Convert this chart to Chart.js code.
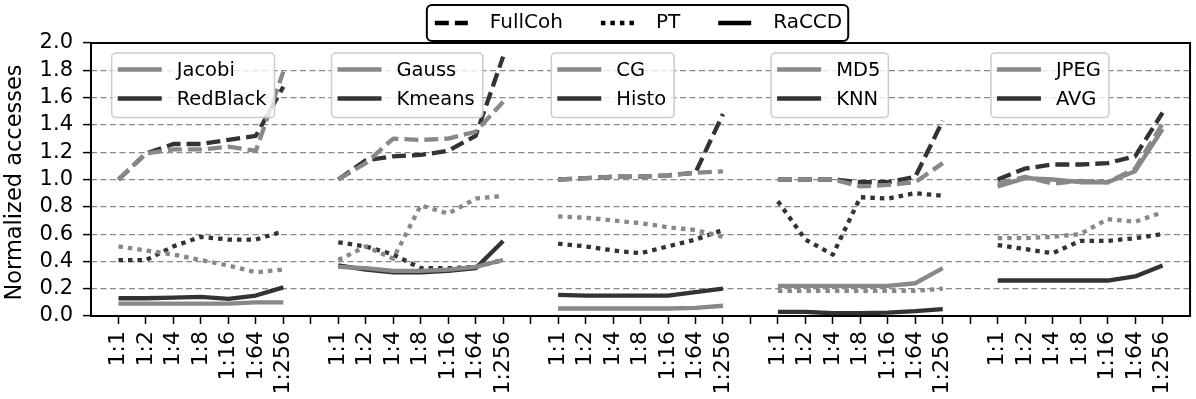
<!DOCTYPE html>
<html>
<head>
<meta charset="utf-8">
<script src="https://cdn.jsdelivr.net/npm/chart.js@4.4.1/dist/chart.umd.min.js"></script>
<style>
  html, body { margin: 0; padding: 0; background: #fff; }
  #wrap { width: 1196px; height: 399px; }
</style>
</head>
<body>
<div id="wrap"><canvas id="chart" width="1196" height="399"></canvas></div>
<script>
/* Normalized accesses per benchmark, three coherence configs, seven ratios. */

const RATIOS = ['1:1', '1:2', '1:4', '1:8', '1:16', '1:64', '1:256'];
const CONFIGS = ['FullCoh', 'PT', 'RaCCD'];
const BENCH_PAIRS = [
  ['Jacobi', 'RedBlack'],
  ['Gauss', 'Kmeans'],
  ['CG', 'Histo'],
  ['MD5', 'KNN'],
  ['JPEG', 'AVG'],
];
const Y_TITLE = 'Normalized accesses';

const JACOBI_FULLCOH = [1.00, 1.19, 1.22, 1.22, 1.24, 1.21, 1.79];
const JACOBI_PT = [0.51, 0.48, 0.45, 0.41, 0.37, 0.32, 0.34];
const JACOBI_RACCD = [0.09, 0.09, 0.09, 0.09, 0.09, 0.10, 0.10];
const REDBLACK_FULLCOH = [1.00, 1.19, 1.26, 1.26, 1.29, 1.32, 1.68];
const REDBLACK_PT = [0.41, 0.41, 0.51, 0.58, 0.56, 0.56, 0.62];
const REDBLACK_RACCD = [0.13, 0.13, 0.135, 0.14, 0.125, 0.15, 0.21];

const GAUSS_FULLCOH = [1.00, 1.12, 1.30, 1.29, 1.30, 1.35, 1.57];
const GAUSS_PT = [0.41, 0.51, 0.42, 0.81, 0.75, 0.86, 0.88];
const GAUSS_RACCD = [0.36, 0.35, 0.33, 0.33, 0.34, 0.36, 0.41];
const KMEANS_FULLCOH = [1.00, 1.14, 1.17, 1.18, 1.21, 1.32, 1.90];
const KMEANS_PT = [0.54, 0.51, 0.45, 0.35, 0.35, 0.36, 0.41];
const KMEANS_RACCD = [0.37, 0.34, 0.32, 0.32, 0.33, 0.35, 0.55];

const CG_FULLCOH = [1.00, 1.01, 1.02, 1.02, 1.03, 1.05, 1.06];
const CG_PT = [0.73, 0.72, 0.70, 0.68, 0.65, 0.63, 0.58];
const CG_RACCD = [0.055, 0.055, 0.055, 0.055, 0.055, 0.06, 0.075];
const HISTO_FULLCOH = [1.00, 1.01, 1.02, 1.02, 1.03, 1.05, 1.48];
const HISTO_PT = [0.53, 0.51, 0.48, 0.46, 0.51, 0.56, 0.63];
const HISTO_RACCD = [0.155, 0.15, 0.15, 0.15, 0.15, 0.175, 0.20];

const MD5_FULLCOH = [1.00, 1.00, 1.00, 0.95, 0.96, 0.98, 1.12];
const MD5_PT = [0.185, 0.185, 0.185, 0.185, 0.185, 0.185, 0.20];
const MD5_RACCD = [0.22, 0.22, 0.22, 0.22, 0.22, 0.24, 0.35];
const KNN_FULLCOH = [1.00, 1.00, 1.00, 0.98, 0.98, 1.02, 1.43];
const KNN_PT = [0.84, 0.56, 0.45, 0.87, 0.86, 0.90, 0.88];
const KNN_RACCD = [0.03, 0.03, 0.02, 0.02, 0.025, 0.035, 0.05];

const JPEG_FULLCOH = [0.97, 1.02, 0.97, 0.99, 0.98, 1.08, 1.41];
const JPEG_PT = [0.57, 0.57, 0.58, 0.60, 0.71, 0.69, 0.76];
const JPEG_RACCD = [0.95, 1.01, 1.00, 0.98, 0.98, 1.06, 1.37];
const AVG_FULLCOH = [1.00, 1.08, 1.11, 1.11, 1.12, 1.17, 1.49];
const AVG_PT = [0.52, 0.49, 0.46, 0.55, 0.55, 0.57, 0.60];
const AVG_RACCD = [0.26, 0.26, 0.26, 0.26, 0.26, 0.29, 0.37];

// benchmark -> [FullCoh, PT, RaCCD]
const SERIES = {
  Jacobi: [JACOBI_FULLCOH, JACOBI_PT, JACOBI_RACCD],
  RedBlack: [REDBLACK_FULLCOH, REDBLACK_PT, REDBLACK_RACCD],
  Gauss: [GAUSS_FULLCOH, GAUSS_PT, GAUSS_RACCD],
  Kmeans: [KMEANS_FULLCOH, KMEANS_PT, KMEANS_RACCD],
  CG: [CG_FULLCOH, CG_PT, CG_RACCD],
  Histo: [HISTO_FULLCOH, HISTO_PT, HISTO_RACCD],
  MD5: [MD5_FULLCOH, MD5_PT, MD5_RACCD],
  KNN: [KNN_FULLCOH, KNN_PT, KNN_RACCD],
  JPEG: [JPEG_FULLCOH, JPEG_PT, JPEG_RACCD],
  AVG: [AVG_FULLCOH, AVG_PT, AVG_RACCD],
};

const GROUP_SPAN = RATIOS.length + 1; // 7 ratios + one empty slot
const X_MAX = GROUP_SPAN * BENCH_PAIRS.length;
const SHADES = ['#888888', '#333333']; // first / second benchmark of a pair
const DASHES = [[14, 6], [4.5, 5], []];
const LINE_W = 4.3;
const FAMILY = '"DejaVu Sans"';

Chart.defaults.font.family = '"DejaVu Sans", sans-serif';
Chart.defaults.font.size = 21;
Chart.defaults.color = '#000';

function tickLabel(v) {
  const slot = v % GROUP_SPAN;
  return slot === 0 ? '' : RATIOS[slot - 1];
}

const datasets = [];
BENCH_PAIRS.forEach((pair, g) => {
  pair.forEach((bench, b) => {
    SERIES[bench].forEach((values, c) => {
      datasets.push({
        label: `${bench} ${CONFIGS[c]}`,
        data: values.map((v, i) => ({ x: g * GROUP_SPAN + 1 + i, y: v })),
        borderColor: SHADES[b],
        borderWidth: LINE_W,
        borderDash: DASHES[c],
        borderCapStyle: 'butt',
        borderJoinStyle: 'round',
        pointRadius: 0,
        tension: 0,
        fill: false,
      });
    });
  });
});

function roundBox(ctx, x, y, w, h, r) {
  ctx.beginPath();
  ctx.moveTo(x + r, y);
  ctx.lineTo(x + w - r, y);
  ctx.arcTo(x + w, y, x + w, y + r, r);
  ctx.lineTo(x + w, y + h - r);
  ctx.arcTo(x + w, y + h, x + w - r, y + h, r);
  ctx.lineTo(x + r, y + h);
  ctx.arcTo(x, y + h, x, y + h - r, r);
  ctx.lineTo(x, y + r);
  ctx.arcTo(x, y, x + r, y, r);
  ctx.closePath();
}

// frame around the plot, y title, per-group benchmark legends, config legend
const framePlugin = {
  id: 'frame',
  afterDatasetsDraw(chart) {
    const { ctx, chartArea: a, scales } = chart;
    ctx.save();
    ctx.font = `19.5px ${FAMILY}`;
    ctx.textBaseline = 'middle';
    BENCH_PAIRS.forEach((pair, g) => {
      const left = scales.x.getPixelForValue(g * GROUP_SPAN) + 20.7;
      const top = a.top + 10;
      const textW = Math.max(...pair.map((n) => ctx.measureText(n).width));
      const w = 65 + textW + 8;
      roundBox(ctx, left, top, w, 64.6, 4);
      ctx.fillStyle = 'rgba(255,255,255,0.8)';
      ctx.fill();
      ctx.lineWidth = 1.5;
      ctx.strokeStyle = '#cccccc';
      ctx.stroke();
      pair.forEach((name, b) => {
        const y = top + 16.6 + b * 29;
        ctx.beginPath();
        ctx.moveTo(left + 6, y);
        ctx.lineTo(left + 50, y);
        ctx.lineWidth = 4.5;
        ctx.strokeStyle = SHADES[b];
        ctx.setLineDash([]);
        ctx.stroke();
        ctx.fillStyle = '#000';
        ctx.fillText(name, left + 65, y + 1);
      });
    });
    ctx.restore();
  },
  afterDraw(chart) {
    const { ctx, chartArea: a } = chart;
    ctx.save();
    ctx.lineWidth = 2;
    ctx.strokeStyle = '#000';
    ctx.strokeRect(a.left, a.top, a.right - a.left, a.bottom - a.top);

    // y axis title
    ctx.font = `22.5px ${FAMILY}`;
    ctx.fillStyle = '#000';
    ctx.save();
    ctx.translate(15, (a.top + a.bottom) / 2 + 3);
    ctx.rotate(-Math.PI / 2);
    ctx.textAlign = 'center';
    ctx.textBaseline = 'middle';
    ctx.fillText(Y_TITLE, 0, 0);
    ctx.restore();

    // config legend above the plot
    ctx.font = `20px ${FAMILY}`;
    ctx.textBaseline = 'middle';
    const sampleLen = 33, textGap = 22, entryGap = 38, padL = 8, padR = 6;
    const widths = CONFIGS.map((c) => ctx.measureText(c).width);
    let w = padL + padR;
    widths.forEach((tw, i) => { w += sampleLen + textGap + tw + (i ? entryGap : 0); });
    const left = (a.left + a.right) / 2 - 3 - w / 2;
    const top = a.top - 38;
    roundBox(ctx, left, top, w, 36, 5);
    ctx.fillStyle = '#fff';
    ctx.fill();
    ctx.lineWidth = 2;
    ctx.stroke();
    let x = left + padL;
    const y = top + 18;
    CONFIGS.forEach((c, i) => {
      ctx.beginPath();
      ctx.setLineDash(DASHES[i]);
      ctx.lineCap = 'butt';
      ctx.lineWidth = LINE_W;
      ctx.moveTo(x, y);
      ctx.lineTo(x + sampleLen, y);
      ctx.stroke();
      ctx.setLineDash([]);
      ctx.fillStyle = '#000';
      ctx.fillText(c, x + sampleLen + textGap, y);
      x += sampleLen + textGap + widths[i] + entryGap;
    });
    ctx.restore();
  },
};

new Chart(document.getElementById('chart'), {
  type: 'line',
  data: { datasets },
  plugins: [framePlugin],
  options: {
    responsive: false,
    animation: false,
    layout: { padding: { top: 43, right: 1, left: 0, bottom: 0 } },
    plugins: { legend: { display: false }, tooltip: { enabled: false } },
    scales: {
      x: {
        type: 'linear',
        min: 0,
        max: X_MAX,
        afterBuildTicks: (scale) => {
          scale.ticks = Array.from({ length: X_MAX - 1 }, (_, i) => ({ value: i + 1 }));
        },
        afterFit: (scale) => { scale.height = 83; },
        ticks: {
          autoSkip: false,
          minRotation: 90,
          maxRotation: 90,
          padding: 7,
          font: { size: 22 },
          callback: (v) => tickLabel(v),
        },
        grid: {
          drawOnChartArea: false,
          drawTicks: true,
          tickLength: 8,
          tickColor: '#000',
          tickWidth: 1.5,
        },
        border: { display: false },
      },
      y: {
        min: 0,
        max: 2,
        afterFit: (scale) => { scale.width = 91; },
        ticks: {
          stepSize: 0.2,
          autoSkip: false,
          padding: 10,
          font: { size: 21 },
          callback: (v) => v.toFixed(1),
        },
        grid: {
          color: '#888888',
          lineWidth: 1.2,
          tickLength: 8,
          tickColor: '#000',
          tickWidth: 1.5,
        },
        border: { display: false, dash: [6, 3.5] },
      },
    },
  },
});
</script>
</body>
</html>
